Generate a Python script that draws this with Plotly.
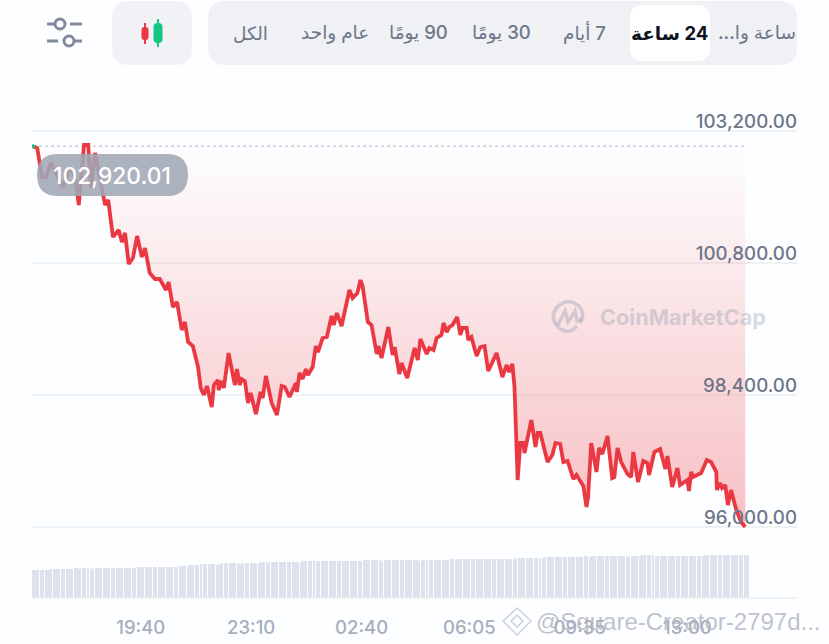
import pandas as pd
import plotly.graph_objects as go

W, H = 829, 644

# minutes counted from midnight of the first day, prices in USD
minutes = [975, 983, 992, 1000, 1009, 1021, 1032, 1045, 1055, 1062, 1072, 1080, 1085, 1093, 1102, 1112, 1118, 1127,
           1138, 1144, 1150, 1157, 1165, 1173, 1182, 1188, 1197, 1207, 1216, 1228, 1233, 1241, 1249, 1258, 1264, 1270,
           1279, 1289, 1294, 1300, 1306, 1315, 1319, 1327, 1328, 1334, 1338, 1347, 1359, 1363, 1368, 1372, 1378, 1384,
           1389, 1399, 1408, 1412, 1418, 1429, 1439, 1448, 1454, 1463, 1475, 1477, 1482, 1488, 1494, 1498, 1507, 1513,
           1517, 1526, 1534, 1543, 1547, 1553, 1562, 1577, 1583, 1592, 1598, 1602, 1612, 1619, 1629, 1632, 1638, 1651,
           1659, 1663, 1672, 1676, 1687, 1701, 1707, 1712, 1724, 1729, 1737, 1743, 1752, 1756, 1762, 1767, 1773, 1782,
           1788, 1792, 1800, 1803, 1809, 1819, 1826, 1834, 1841, 1857, 1868, 1876, 1881, 1887, 1891, 1897, 1902, 1908,
           1910, 1923, 1931, 1935, 1940, 1954, 1963, 1969, 1978, 1984, 1992, 2003, 2009, 2018, 2022, 2028, 2031, 2037,
           2047, 2052, 2058, 2068, 2077, 2081, 2087, 2094, 2106, 2113, 2117, 2126, 2136, 2144, 2147, 2157, 2168, 2178,
           2182, 2191, 2201, 2206, 2220, 2223, 2227, 2231, 2246, 2257, 2265, 2275, 2276, 2282, 2286, 2292, 2297, 2303,
           2313, 2322, 2330]
prices = [102920, 102890, 102363, 102363, 102618, 102400, 102181, 102527, 102381, 101854, 102945, 102945, 102163,
          102800, 102363, 101854, 101945, 101272, 101400, 101181, 101345, 100781, 100890, 101290, 100909, 101072,
          100618, 100509, 100509, 100309, 100454, 100000, 100091, 99581, 99727, 99363, 99290, 98909, 98527, 98400,
          98563, 98181, 98581, 98672, 98490, 98654, 98527, 99163, 98581, 98872, 98581, 98690, 98654, 98254, 98436,
          98054, 98454, 98345, 98745, 98254, 98036, 98563, 98545, 98363, 98618, 98454, 98800, 98690, 98872, 98763,
          98909, 99290, 99181, 99436, 99454, 99836, 99672, 99890, 99654, 100309, 100163, 100254, 100490, 100381,
          99727, 99672, 99145, 99290, 99072, 99636, 99127, 99272, 98781, 98981, 98709, 99254, 99036, 99418, 99145,
          99254, 99218, 99436, 99490, 99709, 99545, 99636, 99672, 99818, 99490, 99618, 99618, 99400, 99454, 99109,
          99272, 99290, 98836, 99163, 98727, 98945, 98818, 98963, 98545, 96854, 97527, 97527, 97345, 97945, 97454,
          97709, 97709, 97181, 97309, 97527, 97509, 97181, 97200, 96872, 96945, 96781, 96745, 96363, 96545, 97527,
          97000, 97436, 97327, 97654, 96890, 96909, 97436, 97181, 96963, 96909, 97363, 96818, 97200, 97163, 96945,
          97363, 97418, 97054, 97290, 96727, 97072, 96763, 96854, 96654, 97000, 96909, 96981, 97218, 97181, 97000,
          96672, 96800, 96709, 96763, 96400, 96672, 96309, 96091, 96000]
open_price = 102920.01

# one bar every five minutes
volumes = [28, 28, 28.5, 28.5, 28.5, 28, 28, 29, 29, 29, 29, 29, 29, 29, 29.5, 29.5, 30, 30, 29.5, 30, 30.5, 30.5, 30,
           29.5, 30.5, 30.5, 30.5, 30.5, 30.5, 30.5, 30.5, 30.5, 30.5, 30.5, 30.5, 30, 30.5, 30.5, 30.5, 30.5, 31, 31,
           31, 31, 31, 31, 31, 31, 31, 31, 31, 31, 31, 31, 31, 31, 32, 32, 32.5, 32.5, 33, 33, 33.5, 33.5, 34, 34, 34,
           34, 34.5, 34, 33.5, 34.5, 35, 35, 35, 35, 35, 35, 35, 34.5, 35, 35.5, 35.5, 35.5, 35.5, 35, 35.5, 36, 36,
           36, 36.5, 36.5, 36.5, 36.5, 36.5, 36.5, 36.5, 36.5, 36.5, 36.5, 36.5, 36.5, 36.5, 37, 37, 37, 37, 37, 37,
           37, 37, 37, 37, 37, 37, 37, 37, 37, 37, 37.5, 37.5, 37.5, 37.5, 37.5, 37, 37.5, 38, 38, 38, 38, 38, 38, 38,
           37.5, 38, 38.5, 38.5, 38.5, 38.5, 38.5, 38.5, 38.5, 38.5, 38, 38, 38, 38, 37.5, 38, 38, 38, 38, 38, 38, 38,
           38, 38.5, 38.5, 38.5, 39, 39, 39, 39, 39, 39, 39, 39, 39, 39, 39, 39, 39, 39, 39, 39, 39, 39, 39, 39, 39.5,
           39.5, 39.5, 39.5, 39.5, 40, 40, 40, 40, 40, 40, 40.5, 40, 40.5, 40.5, 40.5, 41, 41, 41, 41, 41, 41, 41,
           41, 41, 41.5, 41.5, 41.5, 41.5, 41.5, 41.5, 42, 42, 41.5, 42, 42, 42, 42, 42, 42.5, 42.5, 42, 42.5, 42.5,
           42.5, 42.5, 42.5, 42.5, 41.5, 42.5, 42.5, 42.5, 42.5, 43, 43, 43, 43, 43, 41.5, 42.5, 42.5, 42.5, 42.5,
           42.5, 42.5, 42.5, 42.5, 42.5, 42.5, 42.5, 42.5, 42.5, 42.5, 42.5, 42.5, 42.5, 42.5, 43, 43, 43, 43, 43, 43,
           43, 43, 43, 43, 43, 43, 43, 43, 43, 43, 43]

x_tick_minutes = [1180, 1390, 1600, 1805, 2015, 2220]
x_tick_labels = ["19:40", "23:10", "02:40", "06:05", "09:35", "13:00"]
y_ticks = [96000, 98400, 100800, 103200]
y_tick_labels = ["96,000.00", "98,400.00", "100,800.00", "103,200.00"]

tab_labels = ["\u200fساعة وا...\u200f", "\u200f24 ساعة", "\u200f7 أيام", "\u200f30 يومًا", "\u200f90 يومًا", "عام واحد", "الكل"]
tab_centers = [757, 669, 584, 502, 418, 335, 251]

RED = "#ea3943"
GREEN = "#16c784"
GREY = "#808a9d"
PANEL = "#eff1f5"
GRID = "#eff2f5"
BG = "#fdfeff"
ARABIC = "Inter, 'Noto Sans', 'DejaVu Sans', sans-serif"


def to_time(mins):
    return pd.Timestamp("2025-01-01") + pd.to_timedelta(mins, unit="min")


def pt(x, y):
    return f"{x / W:.5f},{1 - y / H:.5f}"


def rounded(x0, y0, x1, y1, r, fill):
    path = (f"M{pt(x0 + r, y0)} L{pt(x1 - r, y0)} Q{pt(x1, y0)} {pt(x1, y0 + r)} "
            f"L{pt(x1, y1 - r)} Q{pt(x1, y1)} {pt(x1 - r, y1)} L{pt(x0 + r, y1)} "
            f"Q{pt(x0, y1)} {pt(x0, y1 - r)} L{pt(x0, y0 + r)} Q{pt(x0, y0)} {pt(x0 + r, y0)} Z")
    return dict(type="path", xref="paper", yref="paper", path=path, fillcolor=fill, line_width=0)


def seg(x0, y0, x1, y1, color, width):
    return dict(type="path", xref="paper", yref="paper", path=f"M{pt(x0, y0)} L{pt(x1, y1)}",
                line=dict(color=color, width=width))


def ring(cx, cy, r, color, width, fill="rgba(0,0,0,0)"):
    return dict(type="circle", xref="paper", yref="paper", x0=(cx - r) / W, x1=(cx + r) / W,
                y0=1 - (cy + r) / H, y1=1 - (cy - r) / H, line=dict(color=color, width=width), fillcolor=fill)


def label_at(x, y, text, font):
    return dict(xref="paper", yref="paper", x=x / W, y=1 - y / H, xanchor="center", yanchor="middle",
                text=text, showarrow=False, font=font)


times = [to_time(m) for m in minutes]
bar_times = [to_time(975 + 5 * i) for i in range(len(volumes))]

fig = go.Figure()
fig.add_trace(go.Bar(x=bar_times, y=volumes, yaxis="y2", marker=dict(color="#dde2ed", line_width=0), width=3.3 * 60000))
fig.add_trace(go.Scatter(x=times, y=[open_price] * len(times), mode="lines",
                         line=dict(color="#c6cedd", width=1.5, dash="dot")))
fig.add_trace(go.Scatter(x=times, y=prices, mode="lines", fill="tonexty",
                         line=dict(color=RED, width=3.8),
                         fillgradient=dict(type="vertical",
                                           colorscale=[[0, "rgba(234,57,67,0.32)"], [1, "rgba(234,57,67,0)"]])))
fig.add_trace(go.Scatter(x=times[:1], y=prices[:1], mode="markers", marker=dict(color=GREEN, size=4)))

shapes = [
    rounded(208, 1, 797, 65, 18, PANEL),
    rounded(630, 5, 710, 61, 13, "#ffffff"),
    rounded(112, 1, 192, 65, 17, "#f1f2f5"),
    # candles
    seg(145, 23, 145, 44, RED, 2),
    rounded(141.5, 27, 148.5, 40, 3, RED),
    seg(158, 19, 158, 47, GREEN, 2),
    rounded(153.5, 23, 162.5, 43, 4, GREEN),
    # filter icon
    seg(47, 24, 54, 24, GREY, 3),
    seg(70, 24, 82, 24, GREY, 3),
    ring(60, 24, 5, GREY, 3),
    seg(47, 41, 58, 41, GREY, 3),
    seg(75, 41, 82, 41, GREY, 3),
    ring(69, 41, 5, GREY, 3),
    # volume baseline
    seg(32, 598, 797, 598, GRID, 2),
    # open price badge
    rounded(37, 154, 188, 196, 21, "rgba(160,167,181,0.88)"),
    # CoinMarketCap mark
    dict(type="path", xref="paper", yref="paper",
         path=f"M{pt(577, 326)} Q{pt(568, 336)} {pt(558, 327)} Q{pt(549, 317)} {pt(557, 307)} "
              f"Q{pt(568, 297)} {pt(579, 306)} Q{pt(586, 315)} {pt(580, 323)}",
         line=dict(color="rgba(150,155,175,0.38)", width=3.5)),
    dict(type="path", xref="paper", yref="paper",
         path=f"M{pt(558, 325)} L{pt(565, 311)} L{pt(568, 322)} L{pt(575, 311)} L{pt(577, 321)} L{pt(582, 319)}",
         line=dict(color="rgba(150,155,175,0.38)", width=3.5)),
    # binance diamond of the repost mark
    dict(type="path", xref="paper", yref="paper",
         path=f"M{pt(517, 608)} L{pt(531, 621)} L{pt(517, 635)} L{pt(503, 621)} Z M{pt(517, 615)} L{pt(523, 621)} "
              f"L{pt(517, 627)} L{pt(511, 621)} Z",
         line=dict(color="rgba(190,195,210,0.75)", width=1.5)),
]

annotations = []
for label, cx in zip(tab_labels, tab_centers):
    active = label.startswith("\u200f24")
    annotations.append(label_at(cx, 33, label, dict(family=ARABIC, size=18.5, color="#0d1421" if active else "#6d7689",
                                                    weight=700 if active else 500)))
annotations.append(label_at(112, 175, f"{open_price:,.2f}", dict(family="Inter", size=22.8, color="#ffffff", weight=500)))
annotations.append(label_at(683, 317, "CoinMarketCap", dict(family="Inter", size=21.7, color="rgba(150,158,178,0.38)", weight=700)))
annotations.append(label_at(678, 621, "@Square-Creator-2797d...", dict(family="Liberation Sans", size=24, color="rgba(175,178,190,0.8)")))

fig.update_layout(
    width=W, height=H, margin=dict(l=0, r=0, t=0, b=0), autosize=False,
    paper_bgcolor=BG, plot_bgcolor=BG, showlegend=False, bargap=0,
    shapes=shapes, annotations=annotations,
    xaxis=dict(domain=[32 / W, 797 / W], anchor="y2", type="date",
               range=[to_time(973), to_time(975 + 765 * 1.9)],
               tickvals=[to_time(m) for m in x_tick_minutes], ticktext=x_tick_labels,
               ticks="outside", ticklen=13, tickcolor="rgba(0,0,0,0)", showgrid=False, zeroline=False,
               tickfont=dict(family="Inter", size=18.5, color="#a6aebd", weight=500)),
    yaxis=dict(domain=[1 - 570 / H, 1 - 100 / H], anchor="free", position=800 / W, side="right",
               range=[96000 - 43 * 18.18, 96000 + 427 * 18.18],
               tickvals=y_ticks, ticktext=y_tick_labels, ticklabelposition="inside", ticklabelshift=-10,
               gridcolor=GRID, gridwidth=1.5, zeroline=False, showline=False,
               tickfont=dict(family="Inter", size=18.7, color="#6d7689", weight=500)),
    yaxis2=dict(domain=[1 - 598 / H, 1 - 540 / H], range=[0, 58], visible=False, fixedrange=True),
)

fig.write_html("out.html", post_script="document.body.style.margin='0';", config=dict(displayModeBar=False))
